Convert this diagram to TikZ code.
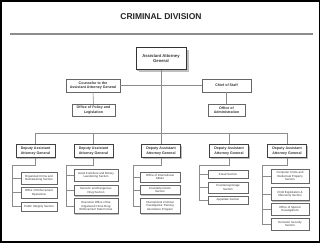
\documentclass[tikz,border=0pt]{standalone}
\usepackage{fontspec}
\setmainfont{Liberation Sans}
\usetikzlibrary{shadows}
\begin{document}
\begin{tikzpicture}[x=1pt,y=-1pt,
  base/.style={draw=black!60,fill=white,line width=0.6pt,align=center,inner sep=0pt,text=black!80,
    drop shadow={shadow xshift=1.3pt,shadow yshift=-1.3pt,fill=black!25,opacity=1}},
  topbox/.style={base,font=\fontsize{3.6}{4.3}\selectfont\bfseries},
  aagbox/.style={base,line width=0.9pt,draw=black!80,font=\fontsize{4.2}{5}\selectfont\bfseries,
    drop shadow={shadow xshift=2.5pt,shadow yshift=-2.5pt,fill=black!25,opacity=1}},
  dbox/.style={base,line width=0.9pt,draw=black!75,minimum width=39pt,minimum height=13pt,
    font=\fontsize{3.6}{4.3}\selectfont\bfseries},
  sbox/.style={base,font=\fontsize{2.9}{3.5}\selectfont},
  conn/.style={draw=black!45,line width=0.6pt}]
\useasboundingbox (0,0) rectangle (320,242);
\fill[white] (0,0) rectangle (320,242);
\draw[line width=3pt] (0,0) rectangle (320,242);
\node[font=\fontsize{8.5}{10}\selectfont\bfseries,text=black!85] (title) at (161,17) {CRIMINAL DIVISION};
\coordinate (rl) at (10,34);
\coordinate (rr) at (313,34);
\draw[draw=black!45,line width=1.4pt] (rl) -- (rr);
% top level
\node[aagbox,minimum width=50pt,minimum height=22pt] (aag) at (161,58.5) {Assistant Attorney\\General};
\node[topbox,minimum width=54pt,minimum height=13pt] (cns) at (93,85.5) {Counselor to the\\Assistant Attorney General};
\node[topbox,minimum width=49pt,minimum height=13pt] (cos) at (226.5,85.5) {Chief of Staff};
\node[topbox,minimum width=43pt,minimum height=12pt] (opl) at (93.5,110) {Office of Policy and\\Legislation};
\node[topbox,minimum width=37pt,minimum height=12pt] (oa) at (226.5,110) {Office of\\Administration};
% DAAGs
\node[dbox] (d1) at (35.5,151) {Deputy Assistant\\Attorney General};
\node[dbox] (d2) at (93.5,151) {Deputy Assistant\\Attorney General};
\node[dbox] (d3) at (161,151) {Deputy Assistant\\Attorney General};
\node[dbox] (d4) at (229,151) {Deputy Assistant\\Attorney General};
\node[dbox] (d5) at (287,151) {Deputy Assistant\\Attorney General};
% col 1
\node[sbox,minimum width=36pt,minimum height=12pt] (s11) at (39,178) {Organized Crime and\\Racketeering Section};
\node[sbox,minimum width=36pt,minimum height=11pt] (s12) at (39,192.5) {Office of Enforcement\\Operations};
\node[sbox,minimum width=36pt,minimum height=9pt] (s13) at (39,206.5) {Public Integrity Section};
% col 2
\node[sbox,minimum width=44pt,minimum height=12pt] (s21) at (96,175) {Asset Forfeiture and Money\\Laundering Section};
\node[sbox,minimum width=44pt,minimum height=10pt] (s22) at (96,190.5) {Narcotic and Dangerous\\Drug Section};
\node[sbox,minimum width=44pt,minimum height=15pt] (s23) at (96,206) {Executive Office of the\\Organized Crime Drug\\Enforcement Task Forces};
% col 3
\node[sbox,minimum width=40pt,minimum height=10pt] (s31) at (160,177) {Office of International\\Affairs};
\node[sbox,minimum width=40pt,minimum height=9pt] (s32) at (160,190) {Counterterrorism\\Section};
\node[sbox,minimum width=40pt,minimum height=15pt] (s33) at (160,206) {International Criminal\\Investigative Training\\Assistance Program};
% col 4
\node[sbox,minimum width=40pt,minimum height=8pt] (s41) at (228,174) {Fraud Section};
\node[sbox,minimum width=40pt,minimum height=11pt] (s42) at (228,187.5) {Counterespionage\\Section};
\node[sbox,minimum width=40pt,minimum height=8pt] (s43) at (228,200) {Appellate Section};
% col 5
\node[sbox,minimum width=38pt,minimum height=14pt] (s51) at (290,176) {Computer Crime and\\Intellectual Property\\Section};
\node[sbox,minimum width=38pt,minimum height=13pt] (s52) at (290,194) {Child Exploitation \&\\Obscenity Section};
\node[sbox,minimum width=38pt,minimum height=12pt] (s53) at (290,209) {Office of Special\\Investigations};
\node[sbox,minimum width=38pt,minimum height=12pt] (s54) at (290,224) {Domestic Security\\Section};
% connectors top
\draw[conn] (cns.east) -- (cos.west);
\draw[conn] (cns.south) -- (opl.north);
\draw[conn] (cos.south) -- (oa.north);
\coordinate (bus) at (161,133);
\draw[conn] (aag.south) -- (d3.north);
\draw[conn] (d1.north) -- (d1.north |- bus) -- (d5.north |- bus) -- (d5.north);
\draw[conn] (d2.north) -- (d2.north |- bus);
\draw[conn] (d4.north) -- (d4.north |- bus);
% trunks
\coordinate (e1) at (12,165);
\coordinate (e2) at (66,165);
\coordinate (e3) at (133,165);
\coordinate (e4) at (199,165);
\coordinate (e5) at (262,165);
\draw[conn] (d1.south) |- (e1) -- (e1 |- s13.west);
\draw[conn] (e1 |- s11.west) -- (s11.west);
\draw[conn] (e1 |- s12.west) -- (s12.west);
\draw[conn] (e1 |- s13.west) -- (s13.west);
\draw[conn] (d2.south) |- (e2) -- (e2 |- s23.west);
\draw[conn] (e2 |- s21.west) -- (s21.west);
\draw[conn] (e2 |- s22.west) -- (s22.west);
\draw[conn] (e2 |- s23.west) -- (s23.west);
\draw[conn] (d3.south) |- (e3) -- (e3 |- s33.west);
\draw[conn] (e3 |- s31.west) -- (s31.west);
\draw[conn] (e3 |- s32.west) -- (s32.west);
\draw[conn] (e3 |- s33.west) -- (s33.west);
\draw[conn] (d4.south) |- (e4) -- (e4 |- s43.west);
\draw[conn] (e4 |- s41.west) -- (s41.west);
\draw[conn] (e4 |- s42.west) -- (s42.west);
\draw[conn] (e4 |- s43.west) -- (s43.west);
\draw[conn] (d5.south) |- (e5) -- (e5 |- s54.west);
\draw[conn] (e5 |- s51.west) -- (s51.west);
\draw[conn] (e5 |- s52.west) -- (s52.west);
\draw[conn] (e5 |- s53.west) -- (s53.west);
\draw[conn] (e5 |- s54.west) -- (s54.west);
\end{tikzpicture}
\end{document}
